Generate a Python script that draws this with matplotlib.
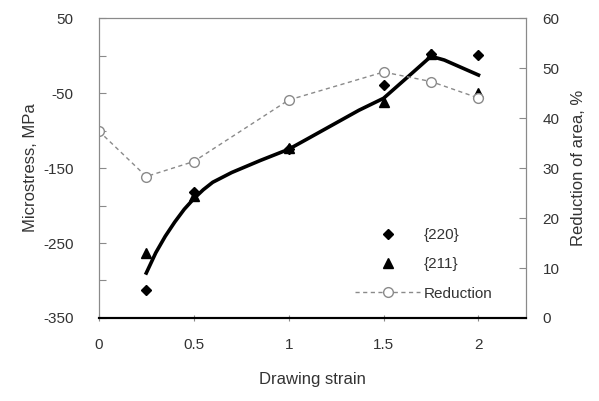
import matplotlib
matplotlib.use("Agg")
import matplotlib.pyplot as plt
from matplotlib.lines import Line2D

plt.rcParams['font.family'] = ['Liberation Sans', 'DejaVu Sans']

# data
strain = [0.25, 0.5, 1.0, 1.5, 1.75, 2.0]
s220 = [-313, -182, -125, -39, 2, 1]
s211 = [-263, -187, -123, -62, 2, -50]

# smoothed trend line through both reflections
fit_x = [0.25, 0.3, 0.35, 0.4, 0.45, 0.5, 0.55, 0.6, 0.7, 0.85, 1.0, 1.1, 1.37, 1.5, 1.63, 1.75, 1.82, 2.0]
fit_y = [-290, -263, -241, -222, -205, -191, -179, -169, -156, -140, -125, -111, -73, -57, -28, -1, -6, -26]

red_x = [0, 0.25, 0.5, 1.0, 1.5, 1.75, 2.0]
red_y = [37.4, 28.3, 31.3, 43.6, 49.2, 47.3, 44.0]

grey = '#8a8a8a'

fig = plt.figure(figsize=(5.99, 4.01), dpi=100)
ax = fig.add_axes([0.165, 0.207, 0.713, 0.748])
ax2 = ax.twinx()

# left axis: microstress
ax.plot(fit_x, fit_y, color='black', lw=2.6, zorder=3, solid_joinstyle='round')
ax.plot(strain, s220, linestyle='none', marker='D', ms=5, color='black', zorder=4)
ax.plot(strain, s211, linestyle='none', marker='^', ms=7, color='black', zorder=4)

# right axis: reduction of area
ax2.plot(red_x, red_y, linestyle=(0, (3, 2.5)), color=grey, lw=1,
         marker='o', ms=7, mfc='white', mec=grey, mew=1)

ax.set_xlim(0, 2.25)
ax.set_ylim(-350, 50)
ax2.set_ylim(0, 60)

ax.set_xticks([0, 0.5, 1, 1.5, 2])
ax.set_xticklabels(['0', '0.5', '1', '1.5', '2'])
ax.set_yticks([-350, -300, -250, -200, -150, -100, -50, 0, 50])
ax.set_yticklabels(['-350', '', '-250', '', '-150', '', '-50', '', '50'])
ax2.set_yticks([0, 10, 20, 30, 40, 50, 60])

ax.tick_params(axis='x', direction='inout', length=5, color=grey, labelsize=11,
               labelcolor='#333333', pad=12)
ax.tick_params(axis='y', direction='in', length=5, color=grey, labelsize=11,
               labelcolor='#333333', pad=18)
ax2.tick_params(axis='y', direction='in', length=5, color=grey, labelsize=11,
                labelcolor='#333333', pad=12)

for a in (ax, ax2):
    for side in ('left', 'right', 'top'):
        a.spines[side].set_color(grey)
    a.spines['bottom'].set_color('black')
    a.spines['bottom'].set_linewidth(1.5)

ax.set_xlabel('Drawing strain', fontsize=12, color='#333333', labelpad=14)
ax.set_ylabel('Microstress, MPa', fontsize=12, color='#333333', labelpad=4)
ax2.set_ylabel('Reduction of area, %', fontsize=12, color='#333333', labelpad=8)

handles = [
    Line2D([], [], linestyle='none', marker='D', ms=5, color='black'),
    Line2D([], [], linestyle='none', marker='^', ms=7, color='black'),
    Line2D([], [], linestyle=(0, (3, 2.5)), color=grey, lw=1, marker='o', ms=7,
           mfc='white', mec=grey),
]
ax2.legend(handles, ['{220}', '{211}', 'Reduction'], loc='lower right',
           bbox_to_anchor=(0.955, 0.012), frameon=False, fontsize=11,
           handlelength=4.2, handletextpad=0.3, labelspacing=1.0,
           labelcolor='#333333')

fig.savefig('out.png', dpi=100)
